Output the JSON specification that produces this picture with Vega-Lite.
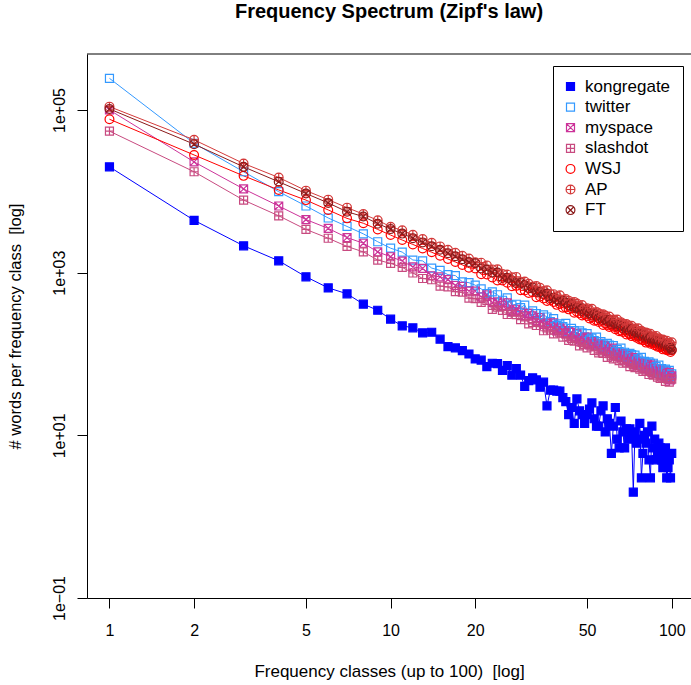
{
"$schema":"https://vega.github.io/schema/vega-lite/v6.json",
"width":604,"height":544,
"autosize":{"type":"none"},
"padding":{"left":87,"top":54,"right":0,"bottom":87},
"background":"white",
"config":{"view":{"stroke":null},"font":"Liberation Sans"},
"title":{"text":"Frequency Spectrum (Zipf's law)","font":"Liberation Sans","fontSize":20,"fontWeight":"bold","color":"black","anchor":"middle","offset":32},
"data":{"values":[
{"x":1,"kongregate":20000,"twitter":245000,"myspace":100000,"slashdot":55000,"WSJ":77000,"AP":110000,"FT":103000},
{"x":2,"kongregate":4400,"twitter":39000,"myspace":23000,"slashdot":17400,"WSJ":28000,"AP":43000,"FT":38000},
{"x":3,"kongregate":2140,"twitter":17400,"myspace":10700,"slashdot":7800,"WSJ":15500,"AP":22000,"FT":20000},
{"x":4,"kongregate":1400,"twitter":9900,"myspace":6600,"slashdot":5000,"WSJ":10400,"AP":14800,"FT":13100},
{"x":5,"kongregate":890,"twitter":6600,"myspace":4500,"slashdot":3400,"WSJ":7800,"AP":10200,"FT":9400},
{"x":6,"kongregate":650,"twitter":4700,"myspace":3500,"slashdot":2650,"WSJ":5900,"AP":7900,"FT":7200},
{"x":7,"kongregate":550,"twitter":3700,"myspace":2700,"slashdot":2100,"WSJ":4650,"AP":6300,"FT":5600},
{"x":8,"kongregate":410,"twitter":3000,"myspace":2300,"slashdot":1800,"WSJ":4050,"AP":5250,"FT":4900},
{"x":9,"kongregate":345,"twitter":2400,"myspace":1800,"slashdot":1430,"WSJ":3400,"AP":4400,"FT":4000},
{"x":10,"kongregate":268,"twitter":2000,"myspace":1570,"slashdot":1300,"WSJ":2900,"AP":3670,"FT":3430},
{"x":11,"kongregate":222,"twitter":1790,"myspace":1390,"slashdot":1160,"WSJ":2518,"AP":3311,"FT":3020},
{"x":12,"kongregate":210,"twitter":1430,"myspace":1175,"slashdot":991,"WSJ":2223,"AP":2917,"FT":2655},
{"x":13,"kongregate":182,"twitter":1395,"myspace":1128,"slashdot":848,"WSJ":1982,"AP":2594,"FT":2355},
{"x":14,"kongregate":185,"twitter":1139,"myspace":916,"slashdot":818,"WSJ":1782,"AP":2328,"FT":2113},
{"x":15,"kongregate":152,"twitter":1064,"myspace":888,"slashdot":683,"WSJ":1614,"AP":2104,"FT":1910},
{"x":16,"kongregate":123,"twitter":945,"myspace":823,"slashdot":668,"WSJ":1472,"AP":1914,"FT":1738},
{"x":17,"kongregate":119,"twitter":921,"myspace":695,"slashdot":583,"WSJ":1352,"AP":1754,"FT":1592},
{"x":18,"kongregate":110,"twitter":772,"myspace":678,"slashdot":575,"WSJ":1245,"AP":1614,"FT":1462},
{"x":19,"kongregate":100,"twitter":753,"myspace":594,"slashdot":485,"WSJ":1151,"AP":1489,"FT":1349},
{"x":20,"kongregate":87,"twitter":701,"myspace":592,"slashdot":480,"WSJ":1126,"AP":1342,"FT":1303},
{"x":21,"kongregate":84,"twitter":632,"myspace":502,"slashdot":430,"WSJ":955,"AP":1327,"FT":1126},
{"x":22,"kongregate":70,"twitter":554,"myspace":534,"slashdot":457,"WSJ":949,"AP":1229,"FT":1094},
{"x":23,"kongregate":77,"twitter":581,"myspace":429,"slashdot":353,"WSJ":875,"AP":1097,"FT":1004},
{"x":24,"kongregate":76,"twitter":535,"myspace":439,"slashdot":377,"WSJ":801,"AP":1101,"FT":1005},
{"x":25,"kongregate":63,"twitter":458,"myspace":396,"slashdot":344,"WSJ":801,"AP":963,"FT":861},
{"x":26,"kongregate":72,"twitter":490,"myspace":424,"slashdot":306,"WSJ":751,"AP":947,"FT":864},
{"x":27,"kongregate":55,"twitter":399,"myspace":332,"slashdot":326,"WSJ":681,"AP":880,"FT":805},
{"x":28,"kongregate":66,"twitter":409,"myspace":355,"slashdot":304,"WSJ":688,"AP":887,"FT":741},
{"x":29,"kongregate":55,"twitter":372,"myspace":328,"slashdot":265,"WSJ":608,"AP":768,"FT":748},
{"x":30,"kongregate":40,"twitter":400,"myspace":293,"slashdot":286,"WSJ":603,"AP":777,"FT":704},
{"x":31,"kongregate":47,"twitter":315,"myspace":315,"slashdot":235,"WSJ":564,"AP":729,"FT":642},
{"x":32,"kongregate":51,"twitter":339,"myspace":295,"slashdot":244,"WSJ":574,"AP":676,"FT":653},
{"x":33,"kongregate":48,"twitter":313,"myspace":257,"slashdot":224,"WSJ":499,"AP":684,"FT":577},
{"x":34,"kongregate":39,"twitter":282,"myspace":280,"slashdot":243,"WSJ":510,"AP":651,"FT":577},
{"x":35,"kongregate":45,"twitter":303,"myspace":231,"slashdot":193,"WSJ":481,"AP":596,"FT":542},
{"x":36,"kongregate":23,"twitter":285,"myspace":240,"slashdot":210,"WSJ":448,"AP":609,"FT":554},
{"x":37,"kongregate":36,"twitter":250,"myspace":222,"slashdot":196,"WSJ":458,"AP":544,"FT":484},
{"x":38,"kongregate":36,"twitter":272,"myspace":242,"slashdot":177,"WSJ":437,"AP":544,"FT":493},
{"x":39,"kongregate":35,"twitter":225,"myspace":192,"slashdot":193,"WSJ":402,"AP":513,"FT":469},
{"x":40,"kongregate":35,"twitter":235,"myspace":210,"slashdot":182,"WSJ":413,"AP":527,"FT":438},
{"x":41,"kongregate":29,"twitter":217,"myspace":196,"slashdot":161,"WSJ":370,"AP":462,"FT":449},
{"x":42,"kongregate":26,"twitter":238,"myspace":179,"slashdot":176,"WSJ":373,"AP":475,"FT":429},
{"x":43,"kongregate":18,"twitter":189,"myspace":194,"slashdot":147,"WSJ":354,"AP":453,"FT":396},
{"x":44,"kongregate":22,"twitter":207,"myspace":184,"slashdot":155,"WSJ":365,"AP":425,"FT":410},
{"x":45,"kongregate":14,"twitter":194,"myspace":162,"slashdot":144,"WSJ":321,"AP":437,"FT":367},
{"x":46,"kongregate":28,"twitter":176,"myspace":179,"slashdot":157,"WSJ":330,"AP":417,"FT":369},
{"x":47,"kongregate":20,"twitter":192,"myspace":149,"slashdot":126,"WSJ":316,"AP":387,"FT":351},
{"x":48,"kongregate":18,"twitter":182,"myspace":158,"slashdot":139,"WSJ":297,"AP":400,"FT":363},
{"x":49,"kongregate":14,"twitter":162,"myspace":146,"slashdot":131,"WSJ":306,"AP":361,"FT":321},
{"x":50,"kongregate":18,"twitter":178,"myspace":161,"slashdot":119,"WSJ":294,"AP":364,"FT":330},
{"x":51,"kongregate":21,"twitter":149,"myspace":129,"slashdot":130,"WSJ":274,"AP":347,"FT":316},
{"x":52,"kongregate":25,"twitter":157,"myspace":142,"slashdot":125,"WSJ":284,"AP":360,"FT":298},
{"x":53,"kongregate":16,"twitter":146,"myspace":134,"slashdot":111,"WSJ":257,"AP":318,"FT":308},
{"x":54,"kongregate":13,"twitter":161,"myspace":123,"slashdot":123,"WSJ":260,"AP":329,"FT":297},
{"x":55,"kongregate":13,"twitter":129,"myspace":135,"slashdot":103,"WSJ":248,"AP":316,"FT":276},
{"x":56,"kongregate":20,"twitter":142,"myspace":129,"slashdot":109,"WSJ":257,"AP":299,"FT":286},
{"x":57,"kongregate":23,"twitter":134,"myspace":115,"slashdot":102,"WSJ":228,"AP":308,"FT":260},
{"x":58,"kongregate":11,"twitter":123,"myspace":127,"slashdot":113,"WSJ":238,"AP":298,"FT":263},
{"x":59,"kongregate":16,"twitter":135,"myspace":107,"slashdot":91,"WSJ":228,"AP":277,"FT":251},
{"x":60,"kongregate":14,"twitter":129,"myspace":113,"slashdot":101,"WSJ":215,"AP":289,"FT":261},
{"x":61,"kongregate":6,"twitter":115,"myspace":106,"slashdot":95,"WSJ":224,"AP":262,"FT":232},
{"x":62,"kongregate":13,"twitter":127,"myspace":118,"slashdot":87,"WSJ":216,"AP":266,"FT":242},
{"x":63,"kongregate":22,"twitter":107,"myspace":95,"slashdot":96,"WSJ":202,"AP":255,"FT":232},
{"x":64,"kongregate":9,"twitter":113,"myspace":105,"slashdot":93,"WSJ":211,"AP":266,"FT":219},
{"x":65,"kongregate":7,"twitter":107,"myspace":99,"slashdot":83,"WSJ":191,"AP":236,"FT":228},
{"x":66,"kongregate":15,"twitter":118,"myspace":91,"slashdot":92,"WSJ":195,"AP":246,"FT":220},
{"x":67,"kongregate":11,"twitter":96,"myspace":101,"slashdot":77,"WSJ":187,"AP":237,"FT":207},
{"x":68,"kongregate":7,"twitter":105,"myspace":97,"slashdot":82,"WSJ":195,"AP":224,"FT":215},
{"x":69,"kongregate":12,"twitter":100,"myspace":86,"slashdot":78,"WSJ":174,"AP":233,"FT":196},
{"x":70,"kongregate":9,"twitter":92,"myspace":96,"slashdot":86,"WSJ":182,"AP":226,"FT":200},
{"x":71,"kongregate":12,"twitter":102,"myspace":81,"slashdot":70,"WSJ":175,"AP":213,"FT":192},
{"x":72,"kongregate":10,"twitter":98,"myspace":87,"slashdot":77,"WSJ":166,"AP":222,"FT":201},
{"x":73,"kongregate":2,"twitter":87,"myspace":81,"slashdot":74,"WSJ":173,"AP":202,"FT":179},
{"x":74,"kongregate":11,"twitter":97,"myspace":90,"slashdot":68,"WSJ":168,"AP":206,"FT":186},
{"x":75,"kongregate":8,"twitter":82,"myspace":73,"slashdot":75,"WSJ":158,"AP":197,"FT":179},
{"x":76,"kongregate":9,"twitter":87,"myspace":81,"slashdot":72,"WSJ":164,"AP":207,"FT":171},
{"x":77,"kongregate":14,"twitter":82,"myspace":77,"slashdot":65,"WSJ":151,"AP":184,"FT":178},
{"x":78,"kongregate":3,"twitter":91,"myspace":71,"slashdot":72,"WSJ":154,"AP":193,"FT":172},
{"x":79,"kongregate":6,"twitter":74,"myspace":78,"slashdot":61,"WSJ":148,"AP":186,"FT":162},
{"x":80,"kongregate":10,"twitter":81,"myspace":76,"slashdot":66,"WSJ":155,"AP":178,"FT":170},
{"x":81,"kongregate":8,"twitter":78,"myspace":68,"slashdot":61,"WSJ":138,"AP":184,"FT":154},
{"x":82,"kongregate":11,"twitter":71,"myspace":76,"slashdot":68,"WSJ":144,"AP":180,"FT":158},
{"x":83,"kongregate":5,"twitter":80,"myspace":64,"slashdot":56,"WSJ":140,"AP":169,"FT":153},
{"x":84,"kongregate":3,"twitter":77,"myspace":69,"slashdot":62,"WSJ":134,"AP":177,"FT":160},
{"x":85,"kongregate":13,"twitter":68,"myspace":65,"slashdot":59,"WSJ":139,"AP":161,"FT":142},
{"x":86,"kongregate":7,"twitter":77,"myspace":73,"slashdot":55,"WSJ":136,"AP":165,"FT":149},
{"x":87,"kongregate":9,"twitter":65,"myspace":58,"slashdot":60,"WSJ":128,"AP":159,"FT":144},
{"x":88,"kongregate":5,"twitter":70,"myspace":66,"slashdot":58,"WSJ":134,"AP":167,"FT":138},
{"x":89,"kongregate":6,"twitter":65,"myspace":62,"slashdot":52,"WSJ":123,"AP":149,"FT":144},
{"x":90,"kongregate":8,"twitter":73,"myspace":57,"slashdot":58,"WSJ":126,"AP":156,"FT":140},
{"x":91,"kongregate":7,"twitter":59,"myspace":64,"slashdot":50,"WSJ":121,"AP":151,"FT":132},
{"x":92,"kongregate":5,"twitter":66,"myspace":61,"slashdot":54,"WSJ":127,"AP":145,"FT":138},
{"x":93,"kongregate":4,"twitter":63,"myspace":55,"slashdot":50,"WSJ":114,"AP":151,"FT":126},
{"x":94,"kongregate":6,"twitter":58,"myspace":63,"slashdot":56,"WSJ":119,"AP":147,"FT":130},
{"x":95,"kongregate":7,"twitter":65,"myspace":53,"slashdot":46,"WSJ":115,"AP":138,"FT":124},
{"x":96,"kongregate":3,"twitter":62,"myspace":57,"slashdot":52,"WSJ":111,"AP":146,"FT":131},
{"x":97,"kongregate":4,"twitter":56,"myspace":53,"slashdot":49,"WSJ":115,"AP":133,"FT":117},
{"x":98,"kongregate":5,"twitter":63,"myspace":59,"slashdot":45,"WSJ":112,"AP":137,"FT":123},
{"x":99,"kongregate":3,"twitter":53,"myspace":48,"slashdot":50,"WSJ":106,"AP":132,"FT":119},
{"x":100,"kongregate":6,"twitter":57,"myspace":54,"slashdot":49,"WSJ":111,"AP":139,"FT":113}
]},
"layer":[
{"transform":[{"fold":["kongregate","twitter","myspace","slashdot","WSJ","AP","FT"],"as":["series","count"]}],
 "mark":{"type":"line","strokeWidth":1},
 "encoding":{
  "x":{"field":"x","type":"quantitative","scale":{"type":"log","domain":[0.832,117.1],"nice":false},
   "axis":{"values":[1,2,5,10,20,50,100],"format":"d","title":"Frequency classes (up to 100)\u00a0 [log]","grid":false,"tickSize":10,"tickColor":"black","domainColor":"black","labelFontSize":16,"labelColor":"black","labelFont":"Liberation Sans","labelPadding":14,"labelFlush":false,"labelOverlap":false,"titleFont":"Liberation Sans","titleFontSize":17,"titleFontWeight":"normal","titleColor":"black","titlePadding":25}},
  "y":{"field":"count","type":"quantitative","scale":{"type":"log","domain":[0.1,488000],"nice":false},
   "axis":{"values":[0.1,10,1000,100000],"labelExpr":"datum.value < 1 ? '1e\u221201' : datum.value < 100 ? '1e+01' : datum.value < 10000 ? '1e+03' : '1e+05'","title":"# words per frequency class\u00a0 [log]","grid":false,"tickSize":10,"tickColor":"black","domainColor":"black","labelFontSize":16,"labelColor":"black","labelFont":"Liberation Sans","labelAngle":-90,"labelAlign":"center","labelBaseline":"bottom","labelPadding":10,"labelFlush":false,"labelOverlap":false,"titleFont":"Liberation Sans","titleFontSize":16.5,"titleFontWeight":"normal","titleColor":"black","titlePadding":28}},
  "color":{"field":"series","type":"nominal","scale":{"domain":["FT","AP","WSJ","slashdot","myspace","twitter","kongregate"],"range":["#8B1A1A","#D43A3A","#FF0000","#C84A80","#CC3399","#3399FF","#0000FF"]},"legend":null}
 }},
{"transform":[{"fold":["kongregate","twitter","myspace","slashdot","WSJ","AP","FT"],"as":["series","count"]}],
 "mark":{"type":"point","filled":false,"opacity":1,"size":64,"strokeWidth":1.2},
 "encoding":{
  "x":{"field":"x","type":"quantitative"},
  "y":{"field":"count","type":"quantitative"},
  "stroke":{"field":"series","type":"nominal","scale":{"domain":["kongregate","twitter","myspace","slashdot","WSJ","AP","FT"],"range":["#0000FF","#3399FF","#CC3399","#C84A80","#FF0000","#D43A3A","#8B1A1A"]},
   "legend":{"orient":"none","legendX":466,"legendY":12,"title":null,"strokeColor":"black","fillColor":"white","padding":12,"labelFontSize":17,"labelFont":"Liberation Sans","labelColor":"black","symbolSize":64,"symbolStrokeWidth":1.2,"rowPadding":2.6,"labelOffset":6,"symbolOffset":-3,"cornerRadius":0}},
  "fill":{"field":"series","type":"nominal","scale":{"domain":["kongregate","twitter","myspace","slashdot","WSJ","AP","FT"],"range":["#0000FF","transparent","transparent","transparent","transparent","transparent","transparent"]},
   "legend":{"orient":"none","legendX":466,"legendY":12,"title":null,"strokeColor":"black","fillColor":"white","padding":12,"labelFontSize":17,"labelFont":"Liberation Sans","labelColor":"black","symbolSize":64,"symbolStrokeWidth":1.2,"rowPadding":2.6,"labelOffset":6,"symbolOffset":-3,"cornerRadius":0}},
  "shape":{"field":"series","type":"nominal","scale":{"domain":["kongregate","twitter","myspace","slashdot","WSJ","AP","FT"],"range":["square","square","M-1,-1H1V1H-1Z M-1,-1L1,1 M1,-1L-1,1","M-1,-1H1V1H-1Z M0,-1V1 M-1,0H1","M-1.1,0A1.1,1.1,0,1,1,1.1,0A1.1,1.1,0,1,1,-1.1,0Z","M-1.1,0A1.1,1.1,0,1,1,1.1,0A1.1,1.1,0,1,1,-1.1,0Z M-1.1,0H1.1 M0,-1.1V1.1","M-1.1,0A1.1,1.1,0,1,1,1.1,0A1.1,1.1,0,1,1,-1.1,0Z M-0.78,-0.78L0.78,0.78 M0.78,-0.78L-0.78,0.78"]},
   "legend":{"orient":"none","legendX":466,"legendY":12,"title":null,"strokeColor":"black","fillColor":"white","padding":12,"labelFontSize":17,"labelFont":"Liberation Sans","labelColor":"black","symbolSize":64,"symbolStrokeWidth":1.2,"rowPadding":2.6,"labelOffset":6,"symbolOffset":-3,"cornerRadius":0}}
 }},
{"data":{"values":[{"top":488000}]},
 "mark":{"type":"rule","color":"black","strokeWidth":1},
 "encoding":{"y":{"field":"top","type":"quantitative"}}}
]
}
